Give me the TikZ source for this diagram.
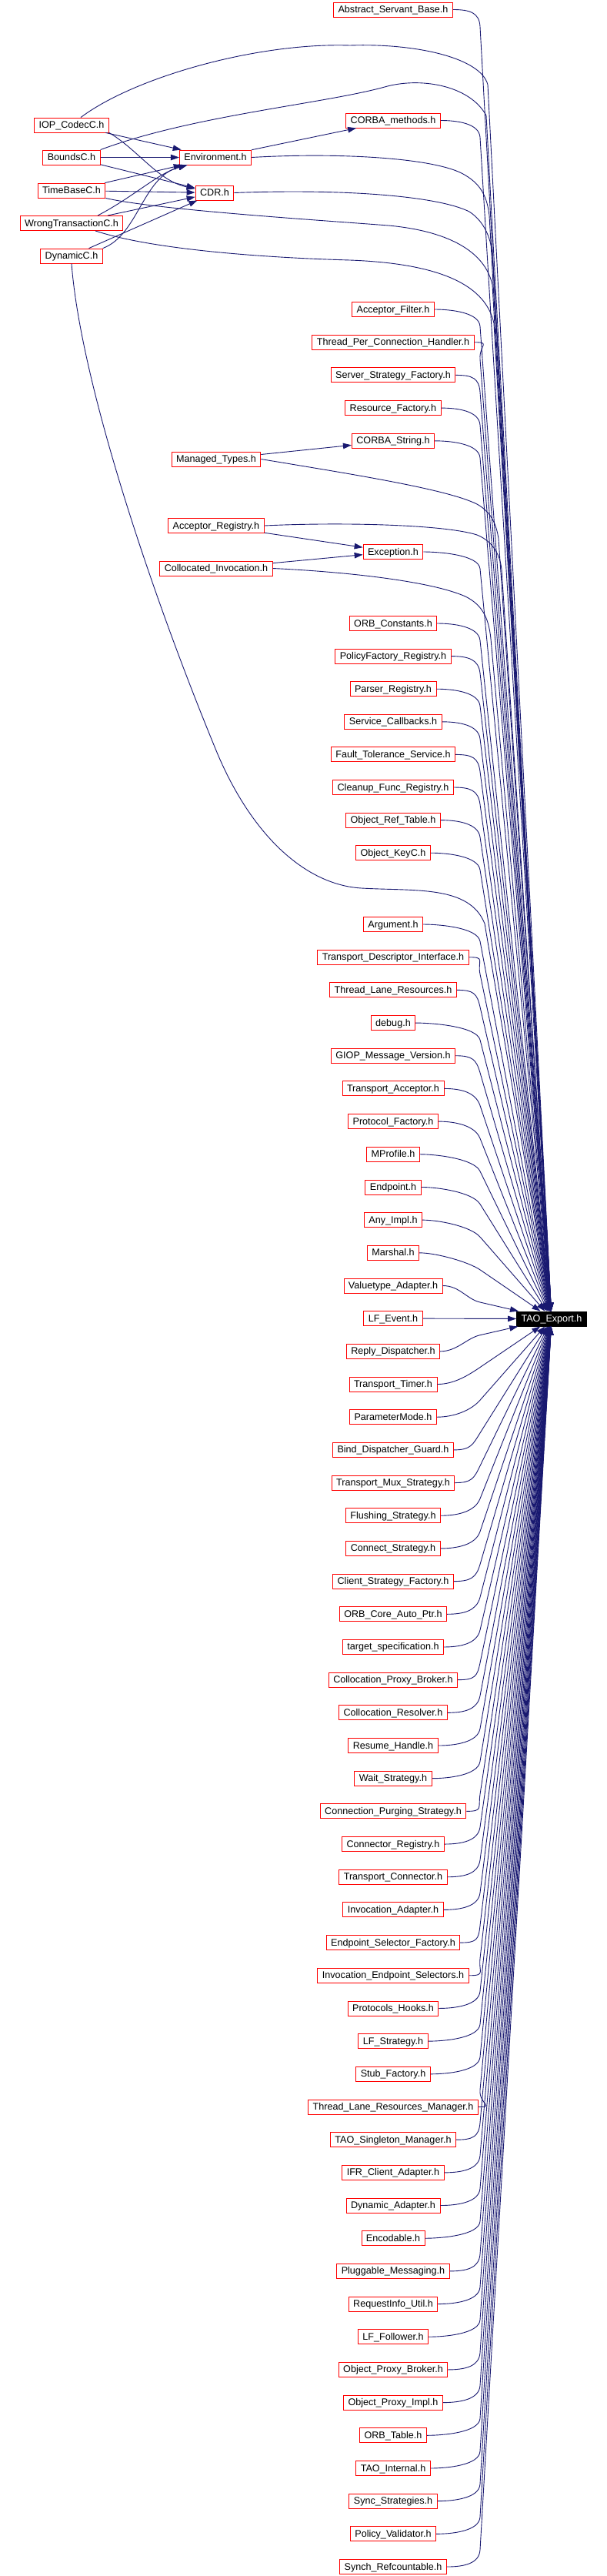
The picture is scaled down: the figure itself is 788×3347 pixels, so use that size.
\documentclass[tikz,border=0pt]{standalone}
\usepackage{fontspec}
\setmainfont{Liberation Sans}
\usetikzlibrary{arrows.meta, calc}
\definecolor{edgeblue}{HTML}{191970}

\tikzset{
  file/.style={draw=red, line width=0.9pt, fill=white, font=\fontsize{12.6}{15}\selectfont,
    inner xsep=6pt, inner ysep=0pt, minimum height=19pt, text height=9.5pt, text depth=1.5pt},
  export/.style={file, draw=black, fill=black, text=white},
  dep/.style={edgeblue, line width=0.9pt, -{Triangle[length=11pt,width=7.5pt]}},
}
% edge into TAO_Export.h: short bend near the column, then straight
\newcommand{\toexport}[1]{%
  \draw[dep] let \p1=(#1.east), \p2=(tao.center),
    \n1={sign(\y2-\y1)*min(22,abs(\y2-\y1)/2)}, \p3=(624pt,\y1+\n1*1pt) in
    (\p1) .. controls +(22pt,0) and ($(\p3)!-18pt!(\p2)$) .. (\p3) -- (tao);}

\begin{document}
\begin{tikzpicture}[x=1pt,y=-1pt]
  \useasboundingbox (0,0) rectangle (788,3347);

  \node[export] (tao) at (717,1713.5) {TAO\_Export.h};

  % left cluster
  \node[file] (iop) at (93,162.5) {IOP\_CodecC.h};
  \node[file] (bounds) at (93,204.5) {BoundsC.h};
  \node[file] (timebase) at (93,247.5) {TimeBaseC.h};
  \node[file] (wrong) at (93,290) {WrongTransactionC.h};
  \node[file] (dyn) at (93,332.5) {DynamicC.h};
  \node[file] (env) at (280,204.5) {Environment.h};
  \node[file] (cdr) at (279,250.5) {CDR.h};
  \node[file] (managed) at (281,596.5) {Managed\_Types.h};
  \node[file] (areg) at (281,683) {Acceptor\_Registry.h};
  \node[file] (coll) at (281,738.5) {Collocated\_Invocation.h};

  % right column
  \node[file] (asb) at (511,12.5) {Abstract\_Servant\_Base.h};
  \node[file] (cmeth) at (511,156.5) {CORBA\_methods.h};
  \node[file] (exc) at (511,717) {Exception.h};
  \foreach \lbl [count=\i from 0] in {Acceptor\_Filter.h, Thread\_Per\_Connection\_Handler.h,
      Server\_Strategy\_Factory.h, Resource\_Factory.h, CORBA\_String.h}
    \node[file] (top\i) at (511,402+\i*42.7) {\lbl};
  \foreach \lbl [count=\i from 0] in {ORB\_Constants.h, PolicyFactory\_Registry.h, Parser\_Registry.h,
      Service\_Callbacks.h, Fault\_Tolerance\_Service.h, Cleanup\_Func\_Registry.h,
      Object\_Ref\_Table.h, Object\_KeyC.h}
    \node[file] (mid\i) at (511,810+\i*42.6) {\lbl};
  \foreach \lbl [count=\i from 0] in {Argument.h, Transport\_Descriptor\_Interface.h,
      Thread\_Lane\_Resources.h, debug.h, GIOP\_Message\_Version.h, Transport\_Acceptor.h,
      Protocol\_Factory.h, MProfile.h, Endpoint.h, Any\_Impl.h, Marshal.h, Valuetype\_Adapter.h,
      LF\_Event.h, Reply\_Dispatcher.h, Transport\_Timer.h, ParameterMode.h,
      Bind\_Dispatcher\_Guard.h, Transport\_Mux\_Strategy.h, Flushing\_Strategy.h,
      Connect\_Strategy.h, Client\_Strategy\_Factory.h, ORB\_Core\_Auto\_Ptr.h,
      target\_specification.h, Collocation\_Proxy\_Broker.h, Collocation\_Resolver.h,
      Resume\_Handle.h, Wait\_Strategy.h, Connection\_Purging\_Strategy.h,
      Connector\_Registry.h, Transport\_Connector.h, Invocation\_Adapter.h,
      Endpoint\_Selector\_Factory.h, Invocation\_Endpoint\_Selectors.h, Protocols\_Hooks.h,
      LF\_Strategy.h, Stub\_Factory.h, Thread\_Lane\_Resources\_Manager.h,
      TAO\_Singleton\_Manager.h, IFR\_Client\_Adapter.h, Dynamic\_Adapter.h, Encodable.h,
      Pluggable\_Messaging.h, RequestInfo\_Util.h, LF\_Follower.h, Object\_Proxy\_Broker.h,
      Object\_Proxy\_Impl.h, ORB\_Table.h, TAO\_Internal.h, Sync\_Strategies.h,
      Policy\_Validator.h, Synch\_Refcountable.h}
    \node[file] (lo\i) at (511,1201+\i*42.68) {\lbl};

  % includes inside the left cluster
  \draw[dep] (iop) -- (env);
  \draw[dep] (iop.south east) .. controls (180,195) and (205,235) .. (cdr);
  \draw[dep] (bounds) -- (env);
  \draw[dep] (bounds) -- (cdr);
  \draw[dep] (timebase) -- (env);
  \draw[dep] (timebase) -- (cdr);
  \draw[dep] ([xshift=34pt]wrong.north) .. controls (175,255) and (205,225) .. (env);
  \draw[dep] (wrong) -- (cdr);
  \draw[dep] (dyn.north east) .. controls (180,305) and (185,230) .. (env);
  \draw[dep] (dyn) -- (cdr);
  \draw[dep] (env) -- (cmeth);
  \draw[dep] (managed) -- (top4);
  \draw[dep] (areg) -- (exc);
  \draw[dep] (coll) -- (exc);

  % long ones into TAO_Export.h
  \draw[dep] ([xshift=12pt]iop.north) .. controls (175,100) and (335,55) .. (455,59)
    .. controls (540,56) and (625,75) .. (634,110) -- (tao);
  \draw[dep] (bounds.north east) .. controls (250,150) and (420,135) .. (500,113)
    .. controls (545,100) and (610,110) .. (632,150) -- (tao);
  \draw[dep] (env.east) .. controls (440,198) and (560,205) .. (600,225)
    .. controls (625,238) and (633,255) .. (636,280) -- (tao);
  \draw[dep] (cdr.east) .. controls (450,245) and (570,255) .. (610,275)
    .. controls (630,288) and (638,310) .. (640,330) -- (tao);
  \draw[dep] (timebase.south east) .. controls (200,272) and (400,285) .. (505,293)
    .. controls (580,300) and (630,325) .. (640,370) -- (tao);
  \draw[dep] ([xshift=31pt]wrong.south) .. controls (200,325) and (350,335) .. (455,338)
    .. controls (560,342) and (630,365) .. (642,420) -- (tao);
  \draw[dep] (dyn.south) .. controls (105,500) and (200,780) .. (283,980)
    .. controls (330,1090) and (400,1150) .. (470,1154)
    .. controls (540,1158) and (610,1150) .. (630,1200) -- (tao);
  \draw[dep] (managed.east) .. controls (450,615) and (580,635) .. (620,655)
    .. controls (638,665) and (645,680) .. (648,700) -- (tao);
  \draw[dep] (areg.east) .. controls (450,678) and (580,682) .. (620,695)
    .. controls (640,703) and (650,720) .. (652,740) -- (tao);
  \draw[dep] (coll.east) .. controls (450,743) and (560,755) .. (605,775)
    .. controls (625,785) and (635,800) .. (638,830) -- (tao);

  % right column into TAO_Export.h
  \foreach \nd in {asb,cmeth,exc} {\toexport{\nd}}
  \foreach \i in {0,...,4} {\toexport{top\i}}
  \foreach \i in {0,...,7} {\toexport{mid\i}}
  \foreach \i in {0,...,50} {\toexport{lo\i}}
\end{tikzpicture}
\end{document}
